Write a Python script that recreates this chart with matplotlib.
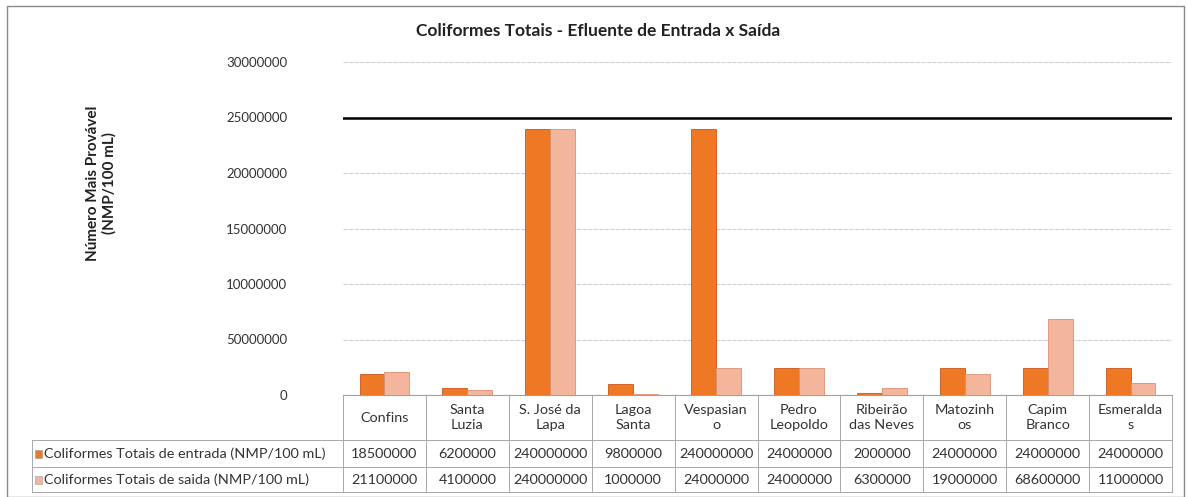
import matplotlib.pyplot as plt
import numpy as np
from matplotlib.lines import Line2D
from matplotlib.patches import Rectangle
from matplotlib.transforms import blended_transform_factory

plt.rcParams["font.family"] = ["Lato", "DejaVu Sans"]

# data as printed in the chart / data table
categories = [
    "Confins", "Santa\nLuzia", "S. José da\nLapa", "Lagoa\nSanta", "Vespasian\no",
    "Pedro\nLeopoldo", "Ribeirão\ndas Neves", "Matozinh\nos", "Capim\nBranco", "Esmeralda\ns",
]
entrada = [18500000, 6200000, 240000000, 9800000, 240000000,
           24000000, 2000000, 24000000, 24000000, 24000000]
saida = [21100000, 4100000, 240000000, 1000000, 24000000,
         24000000, 6300000, 19000000, 68600000, 11000000]
series_names = [
    "Coliformes Totais de entrada (NMP/100 mL)",
    "Coliformes Totais de saida (NMP/100 mL)",
]
ytick_values = [0, 50000000, 100000000, 150000000, 200000000, 250000000, 300000000]
ytick_labels = ["0", "50000000", "10000000", "15000000", "20000000", "25000000", "30000000"]
limit_value = 250000000

title = "Coliformes Totais - Efluente de Entrada x Saída"
ylabel = "Número Mais Provável\n(NMP/100 mL)"

color_in = "#EE7823"
color_out = "#F3B59C"
grid_color = "#D0D0D0"
text_color = "#333333"

W, H = 1187, 497
fig = plt.figure(figsize=(W / 100, H / 100), dpi=100)

# plot area in pixels
ax_left, ax_right, ax_top, ax_bottom = 343, 1172, 62, 395
ax = fig.add_axes([ax_left / W, (H - ax_bottom) / H,
                   (ax_right - ax_left) / W, (ax_bottom - ax_top) / H])

x = np.arange(len(categories))
bw = 0.3
ax.bar(x - bw / 2, entrada, width=bw, color=color_in, edgecolor="#C8561A", linewidth=0.6, zorder=3)
ax.bar(x + bw / 2, saida, width=bw, color=color_out, edgecolor="#D99070", linewidth=0.6, zorder=3)

ax.axhline(limit_value, color="black", linewidth=1.8, zorder=4)

ax.set_xlim(-0.5, len(categories) - 0.5)
ax.set_ylim(0, ytick_values[-1])
ax.set_yticks(ytick_values)
ax.set_yticklabels(ytick_labels, fontsize=9.5, color=text_color)
ax.set_xticks([])
ax.tick_params(axis="y", length=0, pad=40)
ax.grid(axis="y", color=grid_color, linewidth=0.8, linestyle=(0, (4, 1)), zorder=0)
for side in ["top", "right", "left"]:
    ax.spines[side].set_visible(False)
ax.spines["bottom"].set_color("#A0A0A0")
ax.spines["bottom"].set_linewidth(0.8)

# data table under the axes (x in data units, y in pixel-based axes fraction)
trans = blended_transform_factory(ax.transData, ax.transAxes)
ax_h = ax_bottom - ax_top
unit_px = (ax_right - ax_left) / len(categories)


def ay(ypx):
    return (ax_bottom - ypx) / ax_h


def dx(xpx):
    return -0.5 + (xpx - ax_left) / unit_px


row_cat_bottom, row1_bottom, row2_bottom = 440, 467, 492
table_left = dx(32)
line_kw = dict(color="#A8A8A8", linewidth=0.7, transform=trans, clip_on=False)
table_fs = 10.4

for yy in [row_cat_bottom, row1_bottom, row2_bottom]:
    ax.add_line(Line2D([table_left, len(categories) - 0.5], [ay(yy), ay(yy)], **line_kw))
for i in range(len(categories) + 1):
    ax.add_line(Line2D([i - 0.5, i - 0.5], [ay(ax_bottom), ay(row2_bottom)], **line_kw))
ax.add_line(Line2D([table_left, table_left], [ay(row_cat_bottom), ay(row2_bottom)], **line_kw))

for i, cat in enumerate(categories):
    ax.text(i, ay((ax_bottom + row_cat_bottom) / 2), cat, transform=trans, ha="center",
            va="center", fontsize=table_fs, color=text_color, linespacing=1.25)
    ax.text(i, ay((row_cat_bottom + row1_bottom) / 2), str(entrada[i]), transform=trans,
            ha="center", va="center", fontsize=table_fs, color=text_color)
    ax.text(i, ay((row1_bottom + row2_bottom) / 2), str(saida[i]), transform=trans,
            ha="center", va="center", fontsize=table_fs, color=text_color)

for name, col, y0, y1 in [(series_names[0], color_in, row_cat_bottom, row1_bottom),
                          (series_names[1], color_out, row1_bottom, row2_bottom)]:
    yc = ay((y0 + y1) / 2)
    ax.add_patch(Rectangle((dx(35), yc - 4 / ax_h), 7 / unit_px, 8 / ax_h, transform=trans,
                           facecolor=col, edgecolor="#999999", linewidth=0.4, clip_on=False))
    ax.text(dx(44), yc, name, transform=trans, ha="left", va="center", fontsize=table_fs,
            color=text_color)

fig.text(598 / W, 1 - 31 / H, title, ha="center", va="center", fontsize=12.5,
         fontweight="bold", color="#222222")
fig.text(101 / W, 1 - 183 / H, ylabel, ha="center", va="center", rotation=90,
         fontsize=11, fontweight="bold", color="#222222", linespacing=1.2)

# outer chart frame
fig.add_artist(Rectangle((7 / W, 0), (1184 - 7) / W, (H - 6) / H, transform=fig.transFigure,
                         fill=False, edgecolor="#8A8A8A", linewidth=1.0))

fig.savefig("out.png", dpi=100)
